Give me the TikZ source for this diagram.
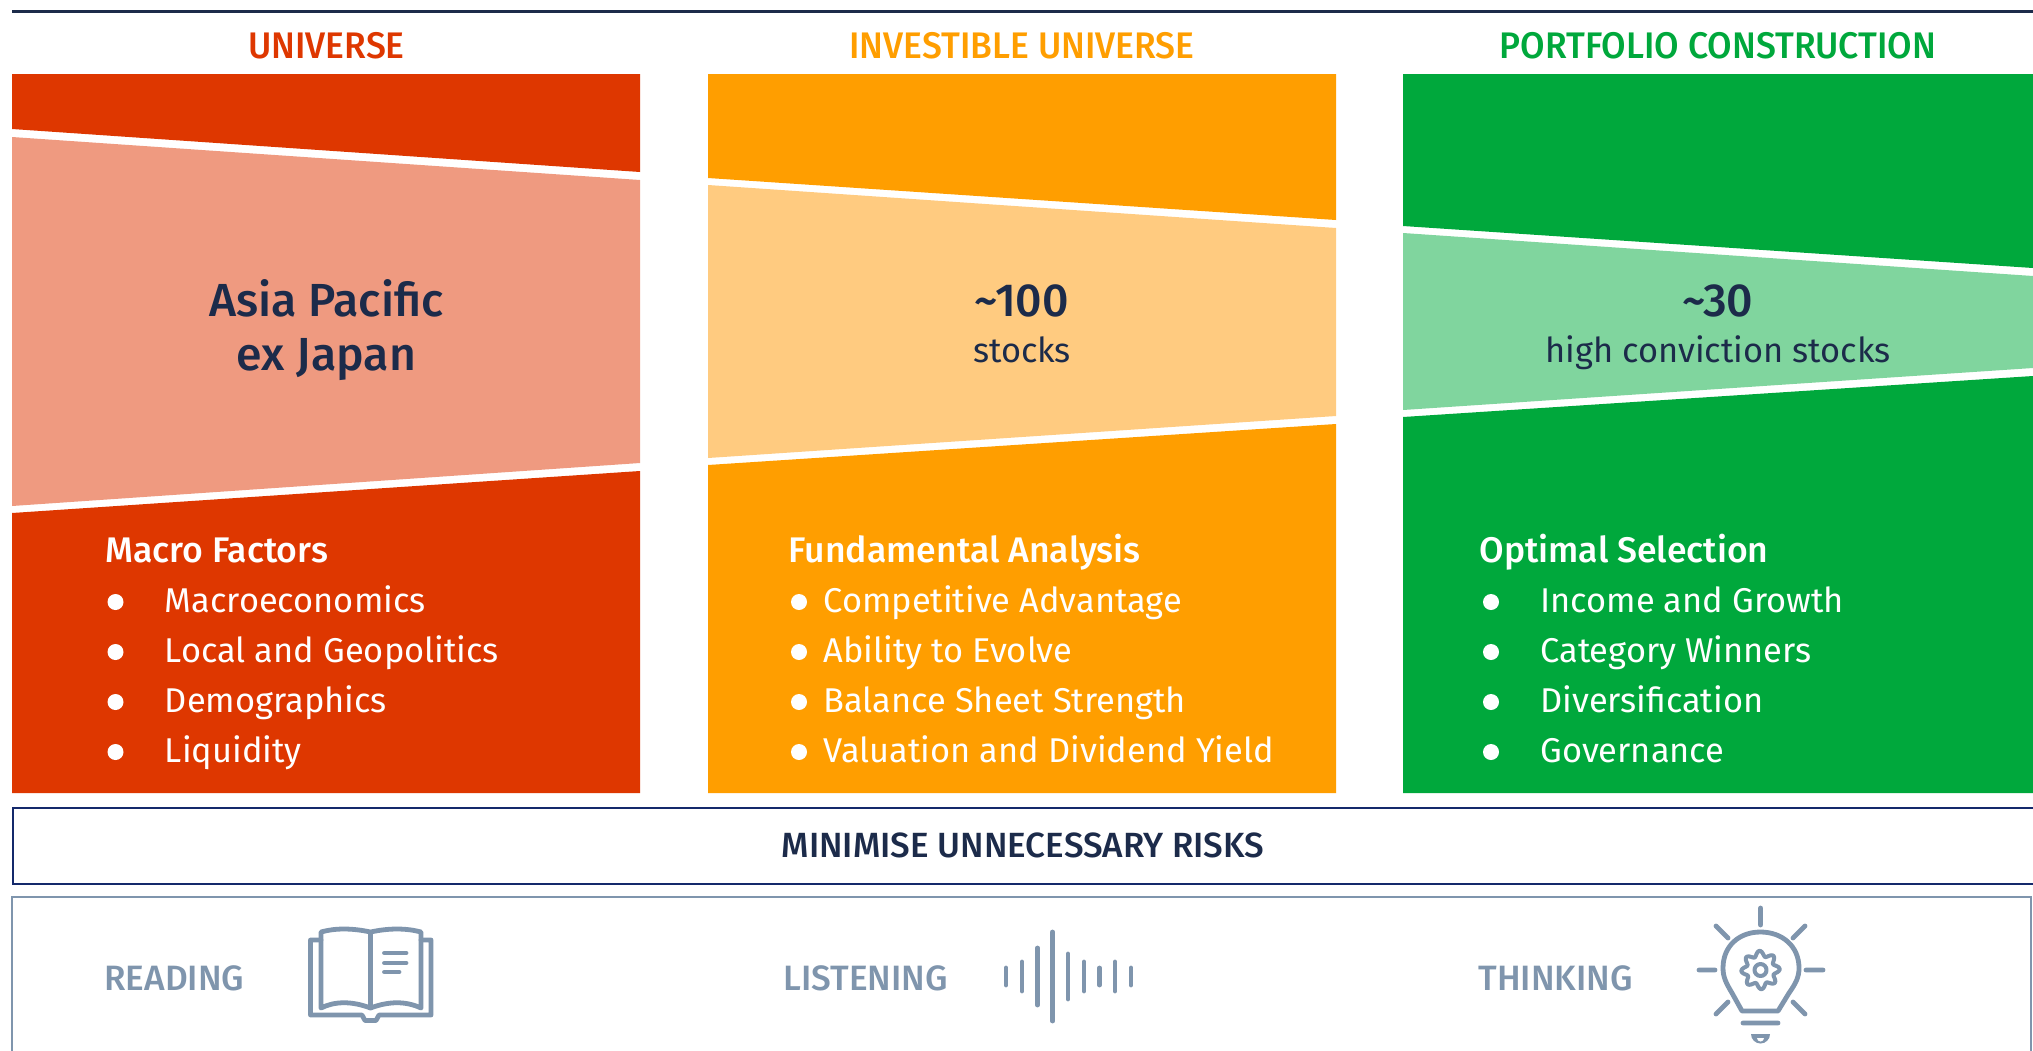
\documentclass[tikz,border=0pt]{standalone}
\usepackage{fontspec}
\setmainfont{Fira Sans}
\newfontfamily\firamed{Fira Sans Medium}
\newfontfamily\firahead[FakeStretch=0.96]{Fira Sans Medium}
\definecolor{navy}{HTML}{1C2B4A}
\definecolor{boxnavy}{HTML}{14296B}
\definecolor{steel}{HTML}{7F95AD}
\definecolor{redd}{HTML}{DE3700}
\definecolor{redl}{HTML}{EF9A80}
\definecolor{orgd}{HTML}{FF9E00}
\definecolor{orgl}{HTML}{FFCB80}
\definecolor{grnd}{HTML}{00A83C}
\definecolor{grnl}{HTML}{80D59E}
\tikzset{
 head/.style={anchor=base,inner sep=0pt,font=\firahead\fontsize{18.5}{20}\selectfont},
 big/.style={anchor=base,inner sep=0pt,text=navy,font=\firamed\fontsize{23.2}{26}\selectfont},
 sub/.style={anchor=base,inner sep=0pt,text=navy,font=\fontsize{17.2}{20}\selectfont},
 ltitle/.style={anchor=base west,inner sep=0pt,text=white,font=\firamed\fontsize{17.8}{20}\selectfont},
 litem/.style={anchor=base west,inner sep=0pt,text=white,font=\fontsize{17.2}{20}\selectfont},
 bul/.style={circle,fill=white,inner sep=0pt,minimum size=8pt},
 lab/.style={anchor=base west,inner sep=0pt,text=steel,font=\firamed\fontsize{17.6}{20}\selectfont},
 icon/.style={draw=steel,line width=2.4pt,line cap=round,line join=round},
 bar/.style={draw=steel,line width=2.4pt,line cap=round},
}
\begin{document}
\begin{tikzpicture}[x=0.5pt,y=-0.5pt]
\useasboundingbox (0,0) rectangle (2033,1050);
\fill[white] (0,0) rectangle (2033,1050);
\draw[navy,line width=1.5pt] (12,11) -- (2033,11);
% column 1
\fill[redd] (12,74) -- (640,74) -- (640,172) -- (12,129) -- cycle;
\fill[redl] (12,137) -- (640,180) -- (640,463) -- (12,506) -- cycle;
\fill[redd] (12,513) -- (640,471) -- (640,793) -- (12,793) -- cycle;
% column 2
\fill[orgd] (708,74) -- (1336,74) -- (1336,220) -- (708,178) -- cycle;
\fill[orgl] (708,185) -- (1336,228) -- (1336,416) -- (708,458) -- cycle;
\fill[orgd] (708,465) -- (1336,424) -- (1336,793) -- (708,793) -- cycle;
% column 3
\fill[grnd] (1403,74) -- (2033,74) -- (2033,268) -- (1403,226) -- cycle;
\fill[grnl] (1403,233) -- (2033,276) -- (2033,368) -- (1403,410) -- cycle;
\fill[grnd] (1403,417) -- (2033,376) -- (2033,793) -- (1403,793) -- cycle;
% headings
\node[head,text=redd] (h1) at (326.5,58) {UNIVERSE};
\node[head,text=orgd] (h2) at (1022,58) {INVESTIBLE UNIVERSE};
\node[head,text=grnd] (h3) at (1718,58) {PORTFOLIO CONSTRUCTION};
% centre labels
\node[big] (a1) at (326.5,316) {Asia Pacific};
\node[big] (a2) at (326.5,370) {ex Japan};
\node[big] (b1) at (1022,316) {\char`\~100};
\node[sub] (b2) at (1022,362) {stocks};
\node[big] (c1) at (1718,316) {\char`\~30};
\node[sub] (c2) at (1718,362) {high conviction stocks};
% lists
\node[ltitle] (t1) at (105,562) {Macro Factors};
\node[ltitle] (t2) at (788,562) {Fundamental Analysis};
\node[ltitle] (t3) at (1479,562) {Optimal Selection};
\foreach \y/\ta/\tb/\tc [count=\i] in {
 612/Macroeconomics/Competitive Advantage/Income and Growth,
 662/Local and Geopolitics/Ability to Evolve/Category Winners,
 712/Demographics/Balance Sheet Strength/Diversification,
 762/Liquidity/Valuation and Dividend Yield/Governance}{
 \node[bul] (ba\i) at (115.5,\y-10) {};
 \node[bul] (bb\i) at (799,\y-10) {};
 \node[bul] (bc\i) at (1491,\y-10) {};
 \node[litem] (ia\i) at (164.5,\y) {\ta};
 \node[litem] (ib\i) at (823,\y) {\tb};
 \node[litem] (ic\i) at (1540,\y) {\tc};
}
% minimise box
\node[draw=boxnavy,line width=1pt,minimum width=1010.5pt,minimum height=38pt,inner sep=0pt,anchor=north west] (risk) at (12,807) {};
\node[text=navy,font=\firamed\fontsize{17.5}{20}\selectfont,anchor=base,inner sep=0pt] (risklab) at (1023,857) {MINIMISE UNNECESSARY RISKS};
% grey box
\draw[steel,line width=1.4pt] (12,1070) -- (12,897) -- (2031,897) -- (2031,1070);
\node[lab] (read) at (104,990) {READING};
\node[lab] (list) at (783,990) {LISTENING};
\node[lab] (think) at (1478,990) {THINKING};
% book
\draw[icon] (321,940) -- (310.5,940) -- (310.5,1015) -- (362,1015) -- (365,1020.5) -- (376,1020.5) -- (379,1015) -- (431,1015) -- (431,940) -- (421,940);
\draw[icon] (370.5,932) .. controls (352,928) and (335,928) .. (321,932) -- (321,1008) .. controls (335,1001) and (352,1001) .. (370.5,1008) .. controls (389,1001) and (406,1001) .. (421,1008) -- (421,932) .. controls (406,928) and (389,928) .. (370.5,932) -- (370.5,1008);
\draw[icon] (384.5,953) -- (406,953) (384.5,963) -- (406,963) (384.5,972) -- (399,972);
% sound wave
\foreach \x/\a/\b in {1006/968/985,1022/962/991,1037.5/948/1005,1052.7/932/1021,1068/954/999,1084/962/991,1099.5/968/985,1115/962/991,1131/968/985}{
 \draw[bar] (\x,\a) -- (\x,\b);
}
% bulb
\draw[icon] (1742,1011) -- (1778,1011) -- (1789,993) .. controls (1796,983) and (1799,977) .. (1799,968) .. controls (1799,946) and (1782,932) .. (1760.5,932) .. controls (1739,932) and (1723,946) .. (1723,968) .. controls (1723,977) and (1726,983) .. (1732,993) -- cycle;
\draw[icon] (1760.5,908) -- (1760.5,925) (1699,970) -- (1715,970) (1806,970) -- (1823,970)
 (1716,926) -- (1728,938) (1805,926) -- (1793,938) (1716,1014) -- (1728,1002) (1805,1014) -- (1793,1002)
 (1743,1023) -- (1778,1023);
\fill[steel] (1751,1034) -- (1770,1034) arc[start angle=0,end angle=180,radius=9.5];
\fill[white] (1757,1038) -- (1764,1038) arc[start angle=0,end angle=180,radius=3.5];
\begin{scope}[shift={(1760.5,970)}]
\draw[icon,line width=2pt] plot[domain=0:360,samples=97,smooth] (\x:{16.5+2.7*cos(8*\x+22.5)}) -- cycle;
\draw[icon,line width=2pt] (0,0) circle[radius=6];
\end{scope}
\end{tikzpicture}
\end{document}
